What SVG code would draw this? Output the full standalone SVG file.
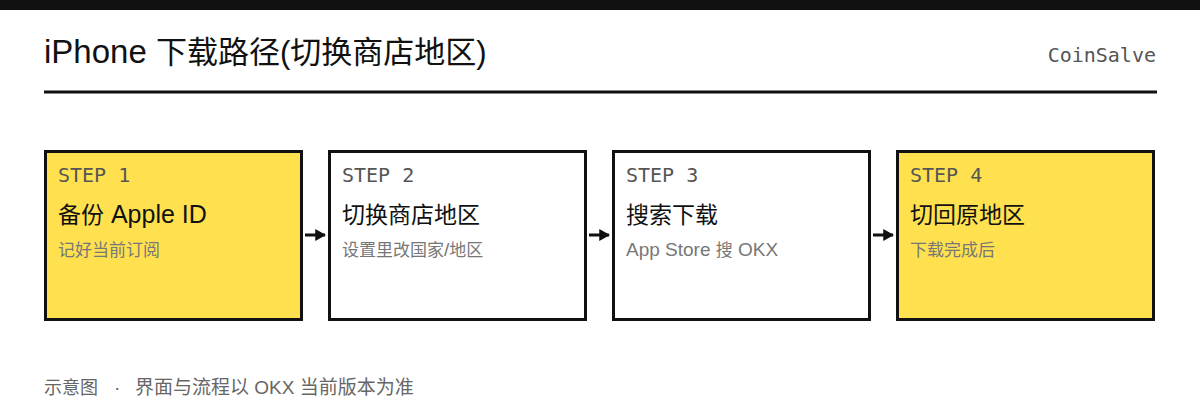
<svg xmlns="http://www.w3.org/2000/svg" width="1200" height="420" viewBox="0 0 1200 420">
<style>
.sans{font-family:"Liberation Sans","Noto Sans CJK SC",sans-serif}
.mono{font-family:"DejaVu Sans Mono","Noto Sans CJK SC",monospace}
.box{stroke:#111;stroke-width:3}
.y{fill:#FFE14F}
.w{fill:#fff}
.step{font-size:20px;fill:#555}
.ttl{font-size:23px;fill:#111}
.ttl .l{font-size:25px}
.sub{font-size:17px;fill:#777}
.sub .l{font-size:19px}
.conn{stroke:#111;stroke-width:3;fill:none}
</style>
<defs>
<marker id="ah" viewBox="0 0 10 11" refX="9" refY="5.5" markerWidth="3.6" markerHeight="4" orient="auto" markerUnits="strokeWidth">
<path d="M0,0 L10,5.5 L0,11 z" fill="#111"/>
</marker>
</defs>
<rect x="0" y="0" width="1200" height="420" fill="#fff"/>
<rect x="0" y="0" width="1200" height="10" fill="#111"/>
<text class="sans" x="44" y="63" font-size="31" fill="#111"><tspan font-size="33">iPhone </tspan>下载路径(切换商店地区)</text>
<text class="mono" x="1156" y="62" font-size="20" fill="#555" text-anchor="end">CoinSalve</text>
<rect x="44" y="90.5" width="1113" height="3" fill="#111"/>
<g id="connectors">
<line class="conn" x1="305" y1="235" x2="325" y2="235" marker-end="url(#ah)"/>
<line class="conn" x1="589" y1="235" x2="609" y2="235" marker-end="url(#ah)"/>
<line class="conn" x1="873" y1="235" x2="893" y2="235" marker-end="url(#ah)"/>
</g>
<g id="step1">
<rect class="box y" x="45.5" y="151.5" width="256" height="168"/>
<text class="mono step" x="58" y="182">STEP 1</text>
<text class="sans ttl" x="58" y="223">备份<tspan class="l"> Apple ID</tspan></text>
<text class="sans sub" x="58" y="256">记好当前订阅</text>
</g>
<g id="step2">
<rect class="box w" x="329.5" y="151.5" width="256" height="168"/>
<text class="mono step" x="342" y="182">STEP 2</text>
<text class="sans ttl" x="342" y="223">切换商店地区</text>
<text class="sans sub" x="342" y="256">设置里改国家<tspan class="l">/</tspan>地区</text>
</g>
<g id="step3">
<rect class="box w" x="613.5" y="151.5" width="256" height="168"/>
<text class="mono step" x="626" y="182">STEP 3</text>
<text class="sans ttl" x="626" y="223">搜索下载</text>
<text class="sans sub" x="626" y="256"><tspan class="l">App Store </tspan>搜<tspan class="l"> OKX</tspan></text>
</g>
<g id="step4">
<rect class="box y" x="897.5" y="151.5" width="256" height="168"/>
<text class="mono step" x="910" y="182">STEP 4</text>
<text class="sans ttl" x="910" y="223">切回原地区</text>
<text class="sans sub" x="910" y="256">下载完成后</text>
</g>
<text class="sans" y="394" font-size="19" fill="#666"><tspan x="44" font-size="18">示意图</tspan><tspan x="114">·</tspan><tspan x="135">界面与流程以 OKX 当前版本为准</tspan></text>
</svg>
